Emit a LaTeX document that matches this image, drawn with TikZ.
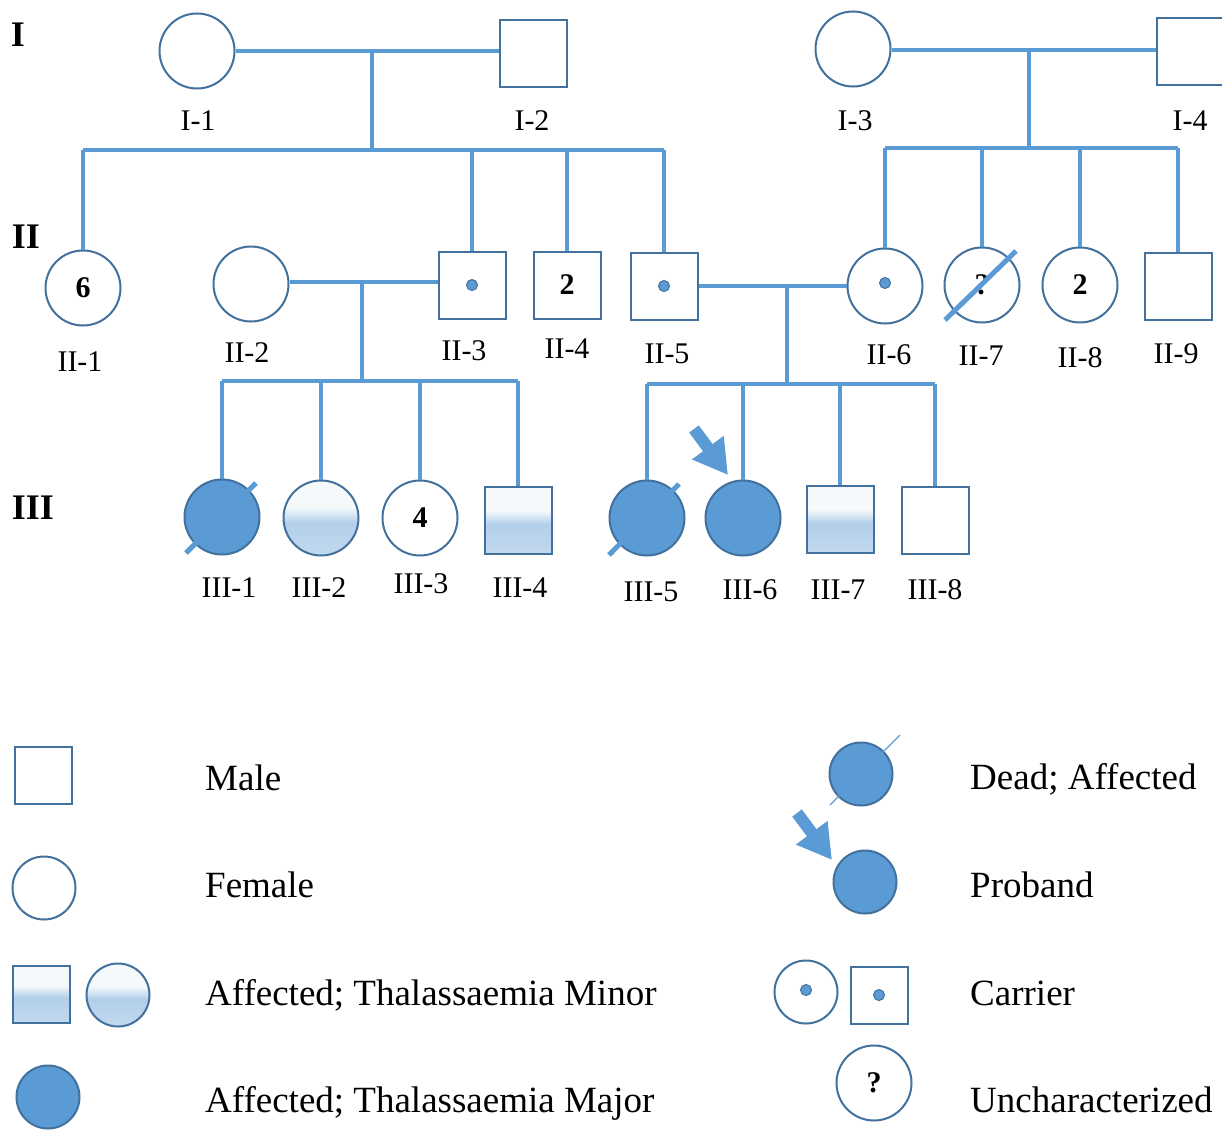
\documentclass[tikz,border=0pt]{standalone}
\usepackage{fontspec}
\setmainfont{Liberation Serif}
\usetikzlibrary{arrows.meta,calc}
\definecolor{lnk}{HTML}{5B9BD5}
\definecolor{outl}{HTML}{41719C}
\definecolor{majf}{HTML}{5B9BD5}
\definecolor{minB}{HTML}{C2D9EE}
\definecolor{minM}{HTML}{B2CFEA}
\definecolor{minT}{HTML}{F5F9FC}
\pgfdeclareverticalshading{minorsh}{100bp}{color(0bp)=(minB); color(25bp)=(minB); color(47bp)=(minM); color(57bp)=(minT); color(100bp)=(minT)}
\begin{document}
\begin{tikzpicture}[x=1pt,y=-1pt,
  pm/.style={rectangle, draw=outl, line width=2pt, minimum size=67pt, inner sep=0pt, fill=white},
  pf/.style={circle, draw=outl, line width=2pt, minimum size=75pt, inner sep=0pt, fill=white},
  lm/.style={rectangle, draw=outl, line width=2pt, minimum size=57pt, inner sep=0pt, fill=white},
  lf/.style={circle, draw=outl, line width=2pt, minimum size=63pt, inner sep=0pt, fill=white},
  minor/.style={shading=minorsh},
  major/.style={fill=majf},
  cdot/.style={circle, fill=lnk, draw=outl, line width=1pt, minimum size=11pt, inner sep=0pt},
  conn/.style={draw=lnk, line width=3.5pt},
  slash/.style={draw=lnk, line width=5pt},
  parr/.style={draw=lnk, line width=12pt, -{Triangle[length=34pt,width=37pt]}},
  lbl/.style={font=\fontsize{30}{30}\selectfont, inner sep=0pt},
  gen/.style={font=\bfseries\fontsize{36}{36}\selectfont, inner sep=0pt},
  num/.style={font=\bfseries\fontsize{30}{30}\selectfont},
  leg/.style={font=\fontsize{37}{37}\selectfont, anchor=base west, inner sep=0pt}]
\useasboundingbox (0,0) rectangle (1222,1129);

% generation labels
\node[gen] (gI) at (18,35) {I};
\node[gen] (gII) at (26,237) {II};
\node[gen] (gIII) at (33,508) {III};

% generation I
\node[pf] (I1) at (197,51) {};
\node[pm] (I2) at (533,54) {};
\node[pf] (I3) at (853,49) {};
\node[pm] (I4) at (1190,52) {};
\node[lbl] (lI1) at (198,121) {I-1};
\node[lbl] (lI2) at (532,121) {I-2};
\node[lbl] (lI3) at (855,121) {I-3};
\node[lbl] (lI4) at (1190,121) {I-4};

% generation II
\node[pf,num] (II1) at (83,288) {6};
\node[pf] (II2) at (251,284) {};
\node[pm] (II3) at (472,285) {};
\node[cdot] (II3d) at (II3) {};
\node[pm,num] (II4) at (567,285) {2};
\node[pm] (II5) at (664,286) {};
\node[cdot] (II5d) at (II5) {};
\node[pf] (II6) at (885,286) {};
\node[cdot] (II6d) at (885,283) {};
\node[pf,num] (II7) at (982,285) {?};
\node[pf,num] (II8) at (1080,285) {2};
\node[pm] (II9) at (1178,286) {};
\node[lbl] (lII1) at (80,362) {II-1};
\node[lbl] (lII2) at (247,353) {II-2};
\node[lbl] (lII3) at (464,351) {II-3};
\node[lbl] (lII4) at (567,349) {II-4};
\node[lbl] (lII5) at (667,354) {II-5};
\node[lbl] (lII6) at (889,355) {II-6};
\node[lbl] (lII7) at (981,356) {II-7};
\node[lbl] (lII8) at (1080,358) {II-8};
\node[lbl] (lII9) at (1176,354) {II-9};

% generation III
\node[pf,major] (III1) at (222,517) {};
\node[pf,minor] (III2) at (321,518) {};
\node[pf,num] (III3) at (420,518) {4};
\node[pm,minor] (III4) at (518,520) {};
\node[pf,major] (III5) at (647,518) {};
\node[pf,major] (III6) at (743,518) {};
\node[pm,minor] (III7) at (840,519) {};
\node[pm] (III8) at (935,520) {};
\node[lbl] (lIII1) at (229,588) {III-1};
\node[lbl] (lIII2) at (319,588) {III-2};
\node[lbl] (lIII3) at (421,584) {III-3};
\node[lbl] (lIII4) at (520,588) {III-4};
\node[lbl] (lIII5) at (651,592) {III-5};
\node[lbl] (lIII6) at (750,590) {III-6};
\node[lbl] (lIII7) at (838,590) {III-7};
\node[lbl] (lIII8) at (935,590) {III-8};

% family I-1 x I-2
\coordinate (m1) at (372,51);
\coordinate (s1) at (372,150);
\draw[conn] (I1.east) -- (I1.east -| I2.west);
\draw[conn] (m1) -- (s1);
\draw[conn] (II1.north |- s1) -- (II5.north |- s1);
\foreach \c in {II1,II3,II4,II5} \draw[conn] (\c.north |- s1) -- (\c.north);

% family I-3 x I-4
\coordinate (m2) at (1029,50);
\coordinate (s2) at (1029,148);
\draw[conn] (I3.east |- m2) -- (I4.west |- m2);
\draw[conn] (m2) -- (s2);
\draw[conn] (II6.north |- s2) -- (II9.north |- s2);
\foreach \c in {II6,II7,II8,II9} \draw[conn] (\c.north |- s2) -- (\c.north);

% family II-2 x II-3
\coordinate (m3) at (362,282);
\coordinate (s3) at (362,381);
\draw[conn] (II2.east |- m3) -- (II3.west |- m3);
\draw[conn] (m3) -- (s3);
\draw[conn] (III1.north |- s3) -- (III4.north |- s3);
\foreach \c in {III1,III2,III3,III4} \draw[conn] (\c.north |- s3) -- (\c.north);

% family II-5 x II-6
\coordinate (m4) at (787,286);
\coordinate (s4) at (787,384);
\draw[conn] (II5.east |- m4) -- (II6.west |- m4);
\draw[conn] (m4) -- (s4);
\draw[conn] (III5.north |- s4) -- (III8.north |- s4);
\foreach \c in {III5,III6,III7,III8} \draw[conn] (\c.north |- s4) -- (\c.north);

% dead slashes
\draw[slash] ($(II7)+(-37,35)$) -- ($(II7)+(34,-34)$);
\draw[slash] ($(III1)+(-36,36)$) -- ($(III1)+(34,-34)$);
\draw[slash] ($(III5)+(-38,37)$) -- ($(III5)+(32,-34)$);

% proband arrow
\coordinate (pa1) at (694,429);
\coordinate (pt1) at (728,475);
\draw[parr] (pa1) -- (pt1);

% legend left
\node[lm] (Lmale) at (43,775) {};
\node[leg] (tmale) at (205,790) {Male};
\node[lf] (Lfem) at (44,888) {};
\node[leg] (tfem) at (205,897) {Female};
\node[lm,minor] (Lmin1) at (41,994) {};
\node[lf,minor] (Lmin2) at (118,995) {};
\node[leg] (tmin) at (205,1005) {Affected; Thalassaemia Minor};
\node[lf,major] (Lmaj) at (48,1097) {};
\node[leg] (tmaj) at (205,1112) {Affected; Thalassaemia Major};

% legend right
\node[lf,major] (Ldead) at (861,774) {};
\draw[draw=lnk, line width=1.2pt] ($(Ldead)+(-31,31)$) -- ($(Ldead)+(39,-39)$);
\node[leg] (tdead) at (970,789) {Dead; Affected};
\node[lf,major] (Lprob) at (865,882) {};
\coordinate (pa2) at (797,813);
\coordinate (pt2) at (832,860);
\draw[parr] (pa2) -- (pt2);
\node[leg] (tprob) at (970,897) {Proband};
\node[lf] (Lcar1) at (806,992) {};
\node[cdot] (Lcar1d) at (806,990) {};
\node[lm] (Lcar2) at (879,995) {};
\node[cdot] (Lcar2d) at (879,995) {};
\node[leg] (tcar) at (970,1005) {Carrier};
\node[pf,num] (Lunk) at (874,1083) {?};
\node[leg] (tunk) at (970,1112) {Uncharacterized};
\end{tikzpicture}
\end{document}
